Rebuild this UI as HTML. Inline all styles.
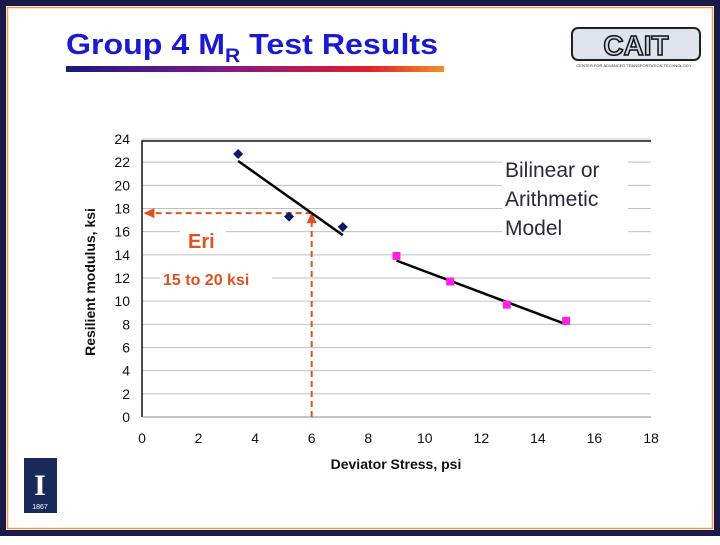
<!DOCTYPE html>
<html><head><meta charset="utf-8"><style>
body{margin:0;width:720px;height:540px;background:#fff;overflow:hidden;font-family:"Liberation Sans",Arial,sans-serif}
</style></head><body>
<svg width="720" height="540" xmlns="http://www.w3.org/2000/svg">
<defs><linearGradient id="ul" x1="0" x2="1"><stop offset="0" stop-color="#1a1a7a"/><stop offset="0.4" stop-color="#7a1a8a"/><stop offset="0.8" stop-color="#e0202a"/><stop offset="1" stop-color="#f0902a"/></linearGradient></defs>
<rect x="3" y="3" width="714" height="530" fill="none" stroke="#1a1a4a" stroke-width="6"/>
<rect x="7.5" y="7.5" width="705" height="521" fill="none" stroke="#e8a040" stroke-width="1.5"/>
<text x="66" y="54" font-size="29" font-weight="bold" fill="#1a1ad0" textLength="372" lengthAdjust="spacingAndGlyphs">Group 4 M<tspan font-size="19" dy="8">R</tspan><tspan dy="-8"> Test Results</tspan></text>
<rect x="66" y="66" width="378" height="6" fill="url(#ul)"/>
<g>
<rect x="572" y="28" width="128" height="32" rx="6" fill="#dde4ee" stroke="#222" stroke-width="2"/>
<text x="636" y="55" font-size="28" font-weight="bold" text-anchor="middle" fill="#cfd8e6" stroke="#111" stroke-width="1.5">CAIT</text>
<text x="634" y="67" font-size="4" text-anchor="middle" fill="#333">CENTER FOR ADVANCED TRANSPORTATION TECHNOLOGY</text>
</g>
<g>
<rect x="24" y="458" width="33" height="55" fill="#1a2a5a"/>
<text x="40" y="495" font-size="30" font-weight="bold" fill="#fff" text-anchor="middle" font-family="Liberation Serif,serif">I</text>
<text x="40" y="509" font-size="7" fill="#fff" text-anchor="middle">1867</text>
</g>
<g id="chart"></g>
</svg>
<script>
const xTicks=[0,2,4,6,8,10,12,14,16,18];
const yTicks=[0,2,4,6,8,10,12,14,16,18,20,22,24];
const blueX=[3.4,5.2,7.1];
const blueY=[22.7,17.3,16.4];
const blueFitX=[3.4,7.1];
const blueFitY=[22.1,15.7];
const pinkX=[9.0,10.9,12.9,15.0];
const pinkY=[13.9,11.7,9.7,8.3];
const pinkFitX=[9.0,15.0];
const pinkFitY=[13.5,8.0];
const eriX=6.0, eriY=17.6;
const NS="http://www.w3.org/2000/svg";
const X0=142,X1=651,Y0=417,Y1=139;
const sx=v=>X0+(v-0)/18*(X1-X0);
const sy=v=>Y0-(v-0)/24*(Y0-Y1);
const g=document.getElementById('chart');
function mk(t,a){const e=document.createElementNS(NS,t);for(const k in a)e.setAttribute(k,a[k]);g.appendChild(e);return e;}
yTicks.forEach(v=>{
 if(v>0){const l=mk('line',{x1:X0,x2:X1,y1:sy(v),y2:sy(v),stroke:'#c0c0c0','stroke-width':1});
 
 }
 const t=mk('text',{x:X0-12,y:sy(v)+5,'font-size':14,'text-anchor':'end',fill:'#111'});t.textContent=v;
 
 
});
xTicks.forEach(v=>{
 const t=mk('text',{x:sx(v),y:Y0+26,'font-size':14,'text-anchor':'middle',fill:'#111'});t.textContent=v;
 
 
});
const fr=mk('path',{d:`M${X0},${Y0}V${Y1+2}H${X1}`,fill:'none',stroke:'#111','stroke-width':1.5});


const xa=mk('line',{x1:X0,x2:X1,y1:Y0,y2:Y0,stroke:'#888','stroke-width':1});


const xt=mk('text',{x:396,y:469,'font-size':14,'font-weight':'bold','text-anchor':'middle',fill:'#111'});xt.textContent='Deviator Stress, psi';


const yt=mk('text',{x:0,y:0,'font-size':14,'font-weight':'bold','text-anchor':'middle',fill:'#111',transform:'translate(95,282) rotate(-90)'});yt.textContent='Resilient modulus, ksi';


function box(x,y,w,h){const r=mk('rect',{x,y,width:w,height:h,fill:'#fff'});}
box(180,226,46,26);box(160,266,112,26);box(502,152,126,92);
const dh=mk('line',{x1:sx(eriX),x2:sx(0.3),y1:sy(eriY),y2:sy(eriY),stroke:'#e05020','stroke-width':2,'stroke-dasharray':'6,4'});


const dv=mk('line',{x1:sx(eriX),x2:sx(eriX),y1:sy(0),y2:sy(eriY)+8,stroke:'#e05020','stroke-width':2,'stroke-dasharray':'6,4'});


const a1=mk('polygon',{points:`${sx(0.05)},${sy(eriY)} ${sx(0.05)+11},${sy(eriY)-5} ${sx(0.05)+11},${sy(eriY)+5}`,fill:'#e05020'});


const a2=mk('polygon',{points:`${sx(eriX)},${sy(eriY)-1} ${sx(eriX)-5},${sy(eriY)+10} ${sx(eriX)+5},${sy(eriY)+10}`,fill:'#e05020'});


const f1=mk('line',{x1:sx(blueFitX[0]),y1:sy(blueFitY[0]),x2:sx(blueFitX[1]),y2:sy(blueFitY[1]),stroke:'#000','stroke-width':2.5});


const f2=mk('line',{x1:sx(pinkFitX[0]),y1:sy(pinkFitY[0]),x2:sx(pinkFitX[1]),y2:sy(pinkFitY[1]),stroke:'#000','stroke-width':2.5});


blueX.forEach((x,i)=>{const cx=sx(x),cy=sy(blueY[i]);
 const p=mk('polygon',{points:`${cx},${cy-5} ${cx+5},${cy} ${cx},${cy+5} ${cx-5},${cy}`,fill:'#0a1a6a'});
 
 });
pinkX.forEach((x,i)=>{const cx=sx(x),cy=sy(pinkY[i]);
 const p=mk('rect',{x:cx-4,y:cy-4,width:8,height:8,fill:'#ff20e0'});
 
 });
function txt(s,x,y,sz,c,n){const t=mk('text',{x,y,'font-size':sz,fill:c});t.textContent=s;return t;}
const e=txt('Eri',188,248,20,'#e05020','eri-label');e.setAttribute('font-weight','bold');
const r=txt('15 to 20 ksi',163,285,16,'#e05020','eri-range-label');r.setAttribute('font-weight','bold');
txt('Bilinear or',505,177,21,'#2a2a3a','model-label-line1');
txt('Arithmetic',505,206,21,'#2a2a3a','model-label-line2');
txt('Model',505,235,21,'#2a2a3a','model-label-line3');
</script>
</body></html>
